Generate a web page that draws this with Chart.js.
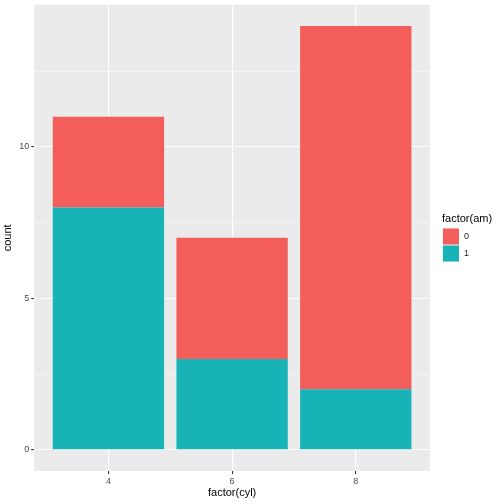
<!DOCTYPE html>
<html><head><meta charset="utf-8">
<script src="https://cdn.jsdelivr.net/npm/chart.js@4"></script>
<style>html,body{margin:0;padding:0;background:#fff}#wrap{width:504px;height:504px}</style>
</head><body><div id="wrap"><canvas id="c" width="504" height="504"></canvas></div>
<script>
const categories = ["4", "6", "8"];
const amLevels = ["0", "1"];
const countAm0 = [3, 4, 12];
const countAm1 = [8, 3, 2];
const yTicks = [0, 5, 10];
const yMinor = [2.5, 7.5, 12.5];
const fills = ["#F35E5A", "#17B3B7"];

const panelBg = {
  id: 'panelBg',
  beforeDraw(chart) {
    const {ctx, chartArea: a} = chart;
    ctx.save();
    ctx.fillStyle = '#EBEBEB';
    ctx.fillRect(a.left, a.top, a.right - a.left, a.bottom - a.top);
    ctx.restore();
  },
  afterDraw(chart) {
    const ctx = chart.ctx;
    ctx.save();
    ctx.font = '11px "Liberation Sans", Arial, sans-serif';
    ctx.fillStyle = '#000';
    ctx.textBaseline = 'middle';
    ctx.fillText('factor(am)', 442, 219);
    ctx.font = '9px "Liberation Sans", Arial, sans-serif';
    for (let i = 0; i < amLevels.length; i++) {
      const y = 228 + i * 17;
      ctx.fillStyle = '#F2F2F2';
      ctx.fillRect(442, y, 17, 17);
      ctx.fillStyle = fills[i];
      ctx.fillRect(443, y + 0.5, 16, 16);
      ctx.fillStyle = '#222';
      ctx.fillText(amLevels[i], 464, y + 9);
    }
    ctx.restore();
  }
};

const ds = (label, vals, color) => ({
  label,
  data: vals.map((v, i) => ({x: i + 1, y: v})),
  backgroundColor: color,
  borderWidth: 0,
  barPercentage: 0.9,
  categoryPercentage: 1.0,
  stack: 's'
});

new Chart(document.getElementById('c'), {
  type: 'bar',
  data: { datasets: [ds('1', countAm1, fills[1]), ds('0', countAm0, fills[0])] },
  options: {
    responsive: false,
    animation: false,
    devicePixelRatio: 1,
    layout: { padding: { left: 0, right: 74, top: 0, bottom: 0 } },
    plugins: { legend: { display: false }, tooltip: { enabled: false } },
    scales: {
      x: {
        type: 'linear', stacked: true, min: 0.4, max: 3.6, offset: false,
        afterBuildTicks: s => { s.ticks = categories.map((c, i) => ({value: i + 1})); },
        ticks: { callback: (v) => categories[Math.round(v) - 1], color: '#4D4D4D',
          font: { size: 9, family: '"Liberation Sans", Arial, sans-serif' }, padding: 2, maxRotation: 0, autoSkip: false },
        grid: { offset: false, color: '#FFFFFF', lineWidth: 1.1, tickColor: '#333333', tickLength: 3, drawTicks: true },
        border: { display: false },
        title: { display: true, text: 'factor(cyl)', color: '#000', font: { size: 11, family: '"Liberation Sans", Arial, sans-serif' }, padding: { top: -2, bottom: 4 } }
      },
      y: {
        type: 'linear', stacked: true, min: -0.7, max: 14.7,
        afterBuildTicks: s => { s.ticks = [0, 2.5, 5, 7.5, 10, 12.5].map(v => ({value: v})); },
        ticks: { callback: (v) => yTicks.includes(v) ? String(v) : '', color: '#4D4D4D',
          font: { size: 9, lineHeight: 0.6, family: '"Liberation Sans", Arial, sans-serif' }, padding: 2, autoSkip: false },
        grid: {
          color: '#FFFFFF',
          lineWidth: c => yMinor.includes(c.tick.value) ? 0.5 : 1.1,
          tickColor: c => yMinor.includes(c.tick.value) ? 'rgba(0,0,0,0)' : '#333333',
          tickLength: 3
        },
        border: { display: false },
        title: { display: true, text: 'count', color: '#000', font: { size: 11, family: '"Liberation Sans", Arial, sans-serif' }, padding: { top: 1, bottom: 3 } }
      }
    }
  },
  plugins: [panelBg]
});
</script></body></html>
